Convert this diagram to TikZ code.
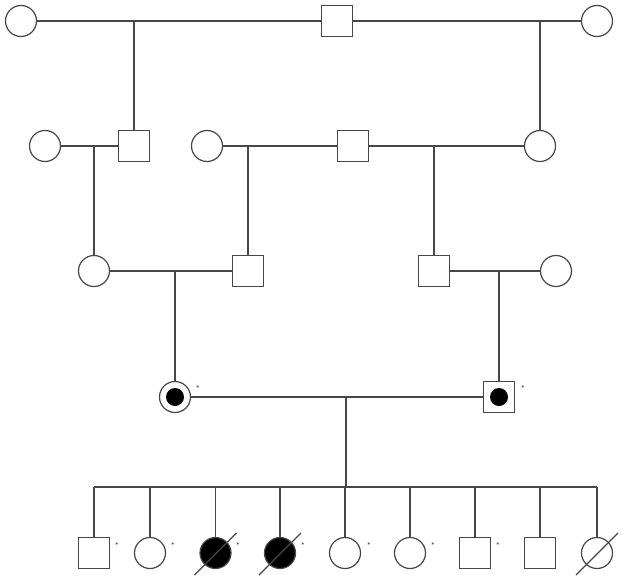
\documentclass[tikz,border=0pt]{standalone}
\begin{document}
\begin{tikzpicture}[x=1pt,y=-1pt,
  lnk/.style={line width=1.2pt, draw=black!72},
  fem/.style={circle, draw=black!72, fill=white, line width=1.2pt, minimum size=31pt, inner sep=0pt},
  mal/.style={rectangle, draw=black!72, fill=white, line width=1.2pt, minimum size=30.5pt, inner sep=0pt},
  carrier/.style={path picture={\fill[black] (path picture bounding box.center) circle (9pt);}},
  affected/.style={fill=black},
  tag/.style={font=\fontsize{6.5}{6.5}\selectfont, inner sep=0pt, text=black}]
\fill[white] (0,0) rectangle (628,581);
\useasboundingbox (0,0) rectangle (628,581);
% generation I
\node[fem] (a1) at (21,21) {};
\node[mal] (a2) at (337,21) {};
\node[fem] (a3) at (597,21) {};
% generation II
\node[fem] (b1) at (45,146) {};
\node[mal] (b2) at (134,146) {};
\node[fem] (b3) at (207,146) {};
\node[mal] (b4) at (353,146) {};
\node[fem] (b5) at (540,146) {};
% generation III
\node[fem] (c1) at (94,271) {};
\node[mal] (c2) at (248,271) {};
\node[mal] (c3) at (434,271) {};
\node[fem] (c4) at (556,271) {};
% generation IV
\node[fem, carrier] (d1) at (175,397) {};
\node[mal, carrier] (d2) at (499,397) {};
\node[tag] (d1t) at (198,388) {*};
\node[tag] (d2t) at (523,388) {*};
% generation V
\node[mal] (e1) at (94,553) {};
\node[fem] (e2) at (150,553) {};
\node[fem, affected] (e3) at (215.5,553) {};
\node[fem, affected] (e4) at (280,553) {};
\node[fem] (e5) at (345,553) {};
\node[fem] (e6) at (410,553) {};
\node[mal] (e7) at (475,553) {};
\node[mal] (e8) at (540,553) {};
\node[fem] (e9) at (597,553) {};
\node[tag] (e1t) at (117,545) {*};
\node[tag] (e2t) at (173,545) {*};
\node[tag] (e3t) at (238,545) {*};
\node[tag] (e4t) at (303,545) {*};
\node[tag] (e5t) at (369,545) {*};
\node[tag] (e6t) at (433,545) {*};
\node[tag] (e7t) at (498,545) {*};
% junction coordinates
\coordinate (j1) at (134,21);
\coordinate (j2) at (540,21);
\coordinate (j3) at (94,146);
\coordinate (j4) at (248,146);
\coordinate (j5) at (434,146);
\coordinate (j6) at (175,271);
\coordinate (j7) at (499,271);
\coordinate (j8) at (346,397);
\coordinate (s0) at (346,487);
\coordinate (sL) at (94,487);
\coordinate (sR) at (597,487);
% couple lines
\draw[lnk] (a1) -- (a2) -- (a3);
\draw[lnk] (b1) -- (b2);
\draw[lnk] (b3) -- (b4) -- (b5);
\draw[lnk] (c1) -- (c2);
\draw[lnk] (c3) -- (c4);
\draw[lnk] (d1) -- (d2);
% descent lines
\draw[lnk] (j1) -- (b2);
\draw[lnk] (j2) -- (b5);
\draw[lnk] (j3) -- (c1);
\draw[lnk] (j4) -- (c2);
\draw[lnk] (j5) -- (c3);
\draw[lnk] (j6) -- (d1);
\draw[lnk] (j7) -- (d2);
\draw[lnk] (j8) -- (s0);
\draw[lnk] (sL) -- (sR);
\foreach \k/\x in {1/94,2/150,3/215.5,4/280,5/345,6/410,7/475,8/540,9/597}{
  \coordinate (t\k) at (\x,487);
  \draw[lnk] (t\k) -- (e\k);
}
% deceased slashes
\foreach \k in {3,4,9}{
  \draw[lnk] ([shift={(-21,22)}]e\k.center) -- ([shift={(21,-20)}]e\k.center);
}
\end{tikzpicture}
\end{document}
